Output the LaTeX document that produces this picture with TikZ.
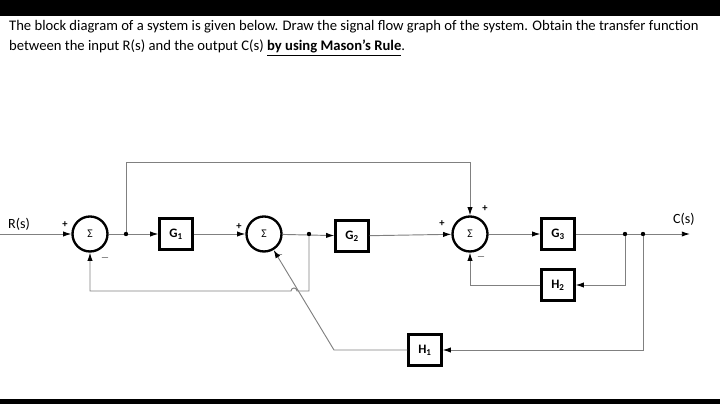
\documentclass[tikz,border=0pt]{standalone}
\usepackage{fontspec}
\setmainfont{Carlito}
\usetikzlibrary{arrows.meta,calc}

\begin{document}
\begin{tikzpicture}[x=0.03cm,y=-0.03cm,>={Latex[length=7pt,width=4.5pt,color=black]},
  sig/.style={draw=black!50,line width=0.8pt},
  blk/.style={draw,line width=2pt,minimum width=0.99cm,minimum height=0.93cm,inner sep=0pt,font=\fontsize{11}{12}\selectfont\bfseries},
  sum/.style={draw,circle,line width=2pt,minimum size=1.05cm,inner sep=0pt,font=\fontsize{10}{11}\selectfont},
  sgn/.style={inner sep=0pt,font=\fontsize{9}{9}\selectfont\bfseries}]
\useasboundingbox (0,0) rectangle (720,404);
\fill (0,0) rectangle (720,16);
\fill (0,399) rectangle (720,404);
\node[anchor=west,font=\fontsize{12.5}{14}\selectfont] (q1) at (5,27) {The block diagram of a system is given below. Draw the signal flow graph of the system. Obtain the transfer function};
\node[anchor=west,font=\fontsize{12.5}{14}\selectfont] (q2) at (5,48) {between the input R(s) and the output C(s) \textbf{\underline{by using Mason’s Rule}}.};
% forward path
\node[sum] (s1) at (90,234) {Σ};
\node[blk] (g1) at (176,234) {G\textsubscript{1}};
\node[sum] (s2) at (264,234) {Σ};
\node[blk] (g2) at (352,236) {G\textsubscript{2}};
\node[sum] (s3) at (470,234) {Σ};
\node[blk] (g3) at (558,234) {G\textsubscript{3}};
\node[blk] (h2) at (558,285) {H\textsubscript{2}};
\node[blk] (h1) at (425,350) {H\textsubscript{1}};
\coordinate (r) at (0,234);
\coordinate (b1) at (126,234);
\coordinate (b2) at (309,234);
\coordinate (b3) at (625,234);
\coordinate (b4) at (643,234);
\coordinate (c) at (690,234);
\node[font=\fontsize{12}{13}\selectfont] (rl) at (19,224) {R(s)};
\node[font=\fontsize{12}{13}\selectfont] (cl) at (684,219) {C(s)};
\draw[sig,->] (r) -- (s1);
\draw[sig,->] (s1) -- (g1);
\draw[sig,->] (g1) -- (s2);
\draw[sig,->] (s2) -- (g2);
\draw[sig,->] (g2) -- (s3);
\draw[sig,->] (s3) -- (g3);
\draw[sig,->] (g3) -- (c);
% loops
\draw[sig,->] (b1) -- (126,162) -| (s3);
\draw[sig,->] (b3) |- (h2);
\draw[sig,->] (h2) -| (s3);
\draw[sig,->] (b4) |- (h1);
\draw[sig,->] (h1) -- (334,350) -- (s2);
\draw[sig,->] (b2) -- (309,291) -- (297,291) arc[start angle=0,end angle=-180,radius=3] -| (s1);
\foreach \p in {b1,b2,b3,b4} \fill (\p) circle (2.2);
% signs
\node[sgn] (p1) at ($(s1)+(-25,-9)$) {+};
\node[sgn] (m1) at ($(s1)+(15,24)$) {$-$};
\node[sgn] (p2) at ($(s2)+(-25,-7)$) {+};
\node[sgn] (m2) at ($(s2)+(15,21)$) {$-$};
\node[sgn] (p3) at ($(s3)+(-28,-10)$) {+};
\node[sgn] (t3) at ($(s3)+(15,-25)$) {+};
\node[sgn] (m3) at ($(s3)+(11,23)$) {$-$};
\end{tikzpicture}
\end{document}
